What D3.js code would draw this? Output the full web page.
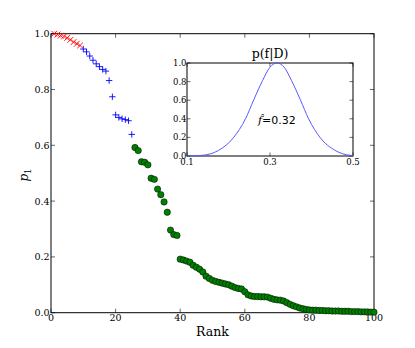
<!DOCTYPE html>
<html>
<head>
<meta charset="utf-8">
<script src="https://cdn.jsdelivr.net/npm/d3@7"></script>
<style>
  body { margin: 0; background: #fff; }
  svg { display: block; }
</style>
</head>
<body>
<script>
// rank plot with inset posterior
var w = 415;
var h = 348;

// p1 per rank, split by marker group (rank = first rank + index)
var redStart = 1;
var pRed = [1.0, 0.997, 0.993, 0.99, 0.985, 0.978, 0.970, 0.964, 0.958];
var blueStart = 10;
var pBlue = [0.945, 0.935, 0.920, 0.905, 0.892, 0.882, 0.872, 0.866,
             0.832, 0.774, 0.709, 0.700, 0.695, 0.692, 0.688, 0.639];
var greenStart = 26;
var pGreen = [0.592, 0.581, 0.541, 0.539, 0.530, 0.482, 0.478, 0.443, 0.423, 0.397,
              0.360, 0.296, 0.280, 0.277, 0.192, 0.189, 0.185, 0.181, 0.170, 0.163,
              0.156, 0.146, 0.131, 0.123, 0.116, 0.112, 0.109, 0.106, 0.103, 0.100,
              0.095, 0.090, 0.087, 0.085, 0.075, 0.064, 0.060, 0.058, 0.058, 0.057,
              0.057, 0.056, 0.052, 0.048, 0.046, 0.045, 0.042, 0.036, 0.030, 0.025,
              0.021, 0.017, 0.014, 0.012, 0.010, 0.009, 0.009, 0.008, 0.008, 0.007,
              0.007, 0.006, 0.006, 0.006, 0.005, 0.005, 0.005, 0.004, 0.004, 0.004,
              0.003, 0.003, 0.003, 0.002, 0.002];

var xTicks = [0, 20, 40, 60, 80, 100];
var yTicks = [0.0, 0.2, 0.4, 0.6, 0.8, 1.0];

// inset curve p(f|D)
var curveF = [0.100, 0.136, 0.176, 0.212, 0.241, 0.261, 0.282, 0.300, 0.317,
              0.334, 0.352, 0.373, 0.393, 0.421, 0.457, 0.494, 0.500];
var curveP = [0.0, 0.007, 0.06, 0.197, 0.40, 0.606, 0.81, 0.955, 1.0,
              0.955, 0.81, 0.606, 0.40, 0.197, 0.06, 0.007, 0.005];
var insetXTicks = [0.1, 0.3, 0.5];
var insetYTicks = [0.0, 0.2, 0.4, 0.6, 0.8, 1.0];
var fHat = "0.32";

var svg = d3.select("body").append("svg")
            .attr("width", w)
            .attr("height", h);

var serif = "DejaVu Serif";

// main axes
var x = d3.scaleLinear().domain([0, 100]).range([51, 374]);
var y = d3.scaleLinear().domain([0, 1]).range([312.7, 33.7]);

function drawFrame(g, xs, ys, xt, yt, tick, fs, lblPadX, lblPadY) {
  var x0 = xs.range()[0], x1 = xs.range()[1];
  var y0 = ys.range()[0], y1 = ys.range()[1];
  // ticks inward on all four sides
  xt.forEach(function(t) {
    g.append("line").attr("x1", xs(t)).attr("x2", xs(t)).attr("y1", y0).attr("y2", y0 - tick)
      .attr("stroke", "#444").attr("stroke-width", 0.8);
    g.append("line").attr("x1", xs(t)).attr("x2", xs(t)).attr("y1", y1).attr("y2", y1 + tick)
      .attr("stroke", "#444").attr("stroke-width", 0.8);
  });
  yt.forEach(function(t) {
    g.append("line").attr("x1", x0).attr("x2", x0 + tick).attr("y1", ys(t)).attr("y2", ys(t))
      .attr("stroke", "#444").attr("stroke-width", 0.8);
    g.append("line").attr("x1", x1).attr("x2", x1 - tick).attr("y1", ys(t)).attr("y2", ys(t))
      .attr("stroke", "#444").attr("stroke-width", 0.8);
  });
  g.selectAll("text.xl").data(xt).enter().append("text")
    .attr("x", function(d) { return xs(d); })
    .attr("y", y0 + lblPadY)
    .attr("text-anchor", "middle")
    .attr("font-family", serif).attr("font-size", fs)
    .text(function(d) { return xs.domain()[1] > 1 ? d3.format("d")(d) : d3.format(".1f")(d); });
  g.selectAll("text.yl").data(yt).enter().append("text")
    .attr("x", x0 - lblPadX)
    .attr("y", function(d) { return ys(d) + fs * 0.36; })
    .attr("text-anchor", "end")
    .attr("font-family", serif).attr("font-size", fs)
    .text(function(d) { return d3.format(".1f")(d); });
  g.append("rect")
    .attr("x", x0).attr("y", y1).attr("width", x1 - x0).attr("height", y0 - y1)
    .attr("fill", "none").attr("stroke", "#000").attr("stroke-width", 1);
}

var main = svg.append("g");
drawFrame(main, x, y, xTicks, yTicks, 4, 9.5, 1.5, 8.5);

// green circles
main.selectAll("circle")
  .data(pGreen)
  .enter()
  .append("circle")
  .attr("cx", function(d, i) { return x(greenStart + i); })
  .attr("cy", function(d) { return y(d); })
  .attr("r", 3.2)
  .attr("fill", "#008000")
  .attr("stroke", "#000")
  .attr("stroke-width", 0.5);

// blue pluses
var s = 3.2;
main.selectAll("path.plus")
  .data(pBlue)
  .enter()
  .append("path")
  .attr("class", "plus")
  .attr("d", function(d, i) {
    var cx = x(blueStart + i), cy = y(d);
    return "M" + (cx - s) + "," + cy + "H" + (cx + s) + "M" + cx + "," + (cy - s) + "V" + (cy + s);
  })
  .attr("stroke", "#0000ff")
  .attr("stroke-width", 0.9)
  .attr("fill", "none");

// red crosses
main.selectAll("path.cross")
  .data(pRed)
  .enter()
  .append("path")
  .attr("class", "cross")
  .attr("d", function(d, i) {
    var cx = x(redStart + i), cy = y(d), k = 2.9;
    return "M" + (cx - k) + "," + (cy - k) + "L" + (cx + k) + "," + (cy + k) +
           "M" + (cx - k) + "," + (cy + k) + "L" + (cx + k) + "," + (cy - k);
  })
  .attr("stroke", "#ff0000")
  .attr("stroke-width", 0.9)
  .attr("fill", "none");

// axis labels
svg.append("text")
  .attr("x", 212.5).attr("y", 336)
  .attr("text-anchor", "middle")
  .attr("font-family", serif).attr("font-size", 12.5)
  .text("Rank");

var yl = svg.append("text")
  .attr("transform", "translate(28,175) rotate(-90)")
  .attr("text-anchor", "middle")
  .attr("font-family", serif).attr("font-size", 12);
yl.append("tspan").attr("font-style", "italic").text("p");
yl.append("tspan").attr("font-size", 8.5).attr("dy", 3).text("1");

// inset
var xi = d3.scaleLinear().domain([0.1, 0.5]).range([187, 353]);
var yi = d3.scaleLinear().domain([0, 1]).range([156, 63]);
var inset = svg.append("g");
inset.append("rect")
  .attr("x", 187).attr("y", 63).attr("width", 166).attr("height", 93)
  .attr("fill", "#fff");
drawFrame(inset, xi, yi, insetXTicks, insetYTicks, 3.5, 8.5, 0.5, 8.5);

var line = d3.line()
  .x(function(d, i) { return xi(curveF[i]); })
  .y(function(d) { return yi(d); })
  .curve(d3.curveMonotoneX);

inset.append("path")
  .attr("d", line(curveP))
  .attr("fill", "none")
  .attr("stroke", "#5858ff")
  .attr("stroke-width", 1);

inset.append("text")
  .attr("x", 270).attr("y", 58)
  .attr("text-anchor", "middle")
  .attr("font-family", serif).attr("font-size", 12.5)
  .text("p(f|D)");

var fh = inset.append("text")
  .attr("x", 258).attr("y", 124)
  .attr("font-family", "DejaVu Sans").attr("font-size", 11);
fh.append("tspan").attr("font-family", serif).attr("font-style", "italic").text("f\u0302");
fh.append("tspan").text("=" + fHat);
</script>
</body>
</html>
